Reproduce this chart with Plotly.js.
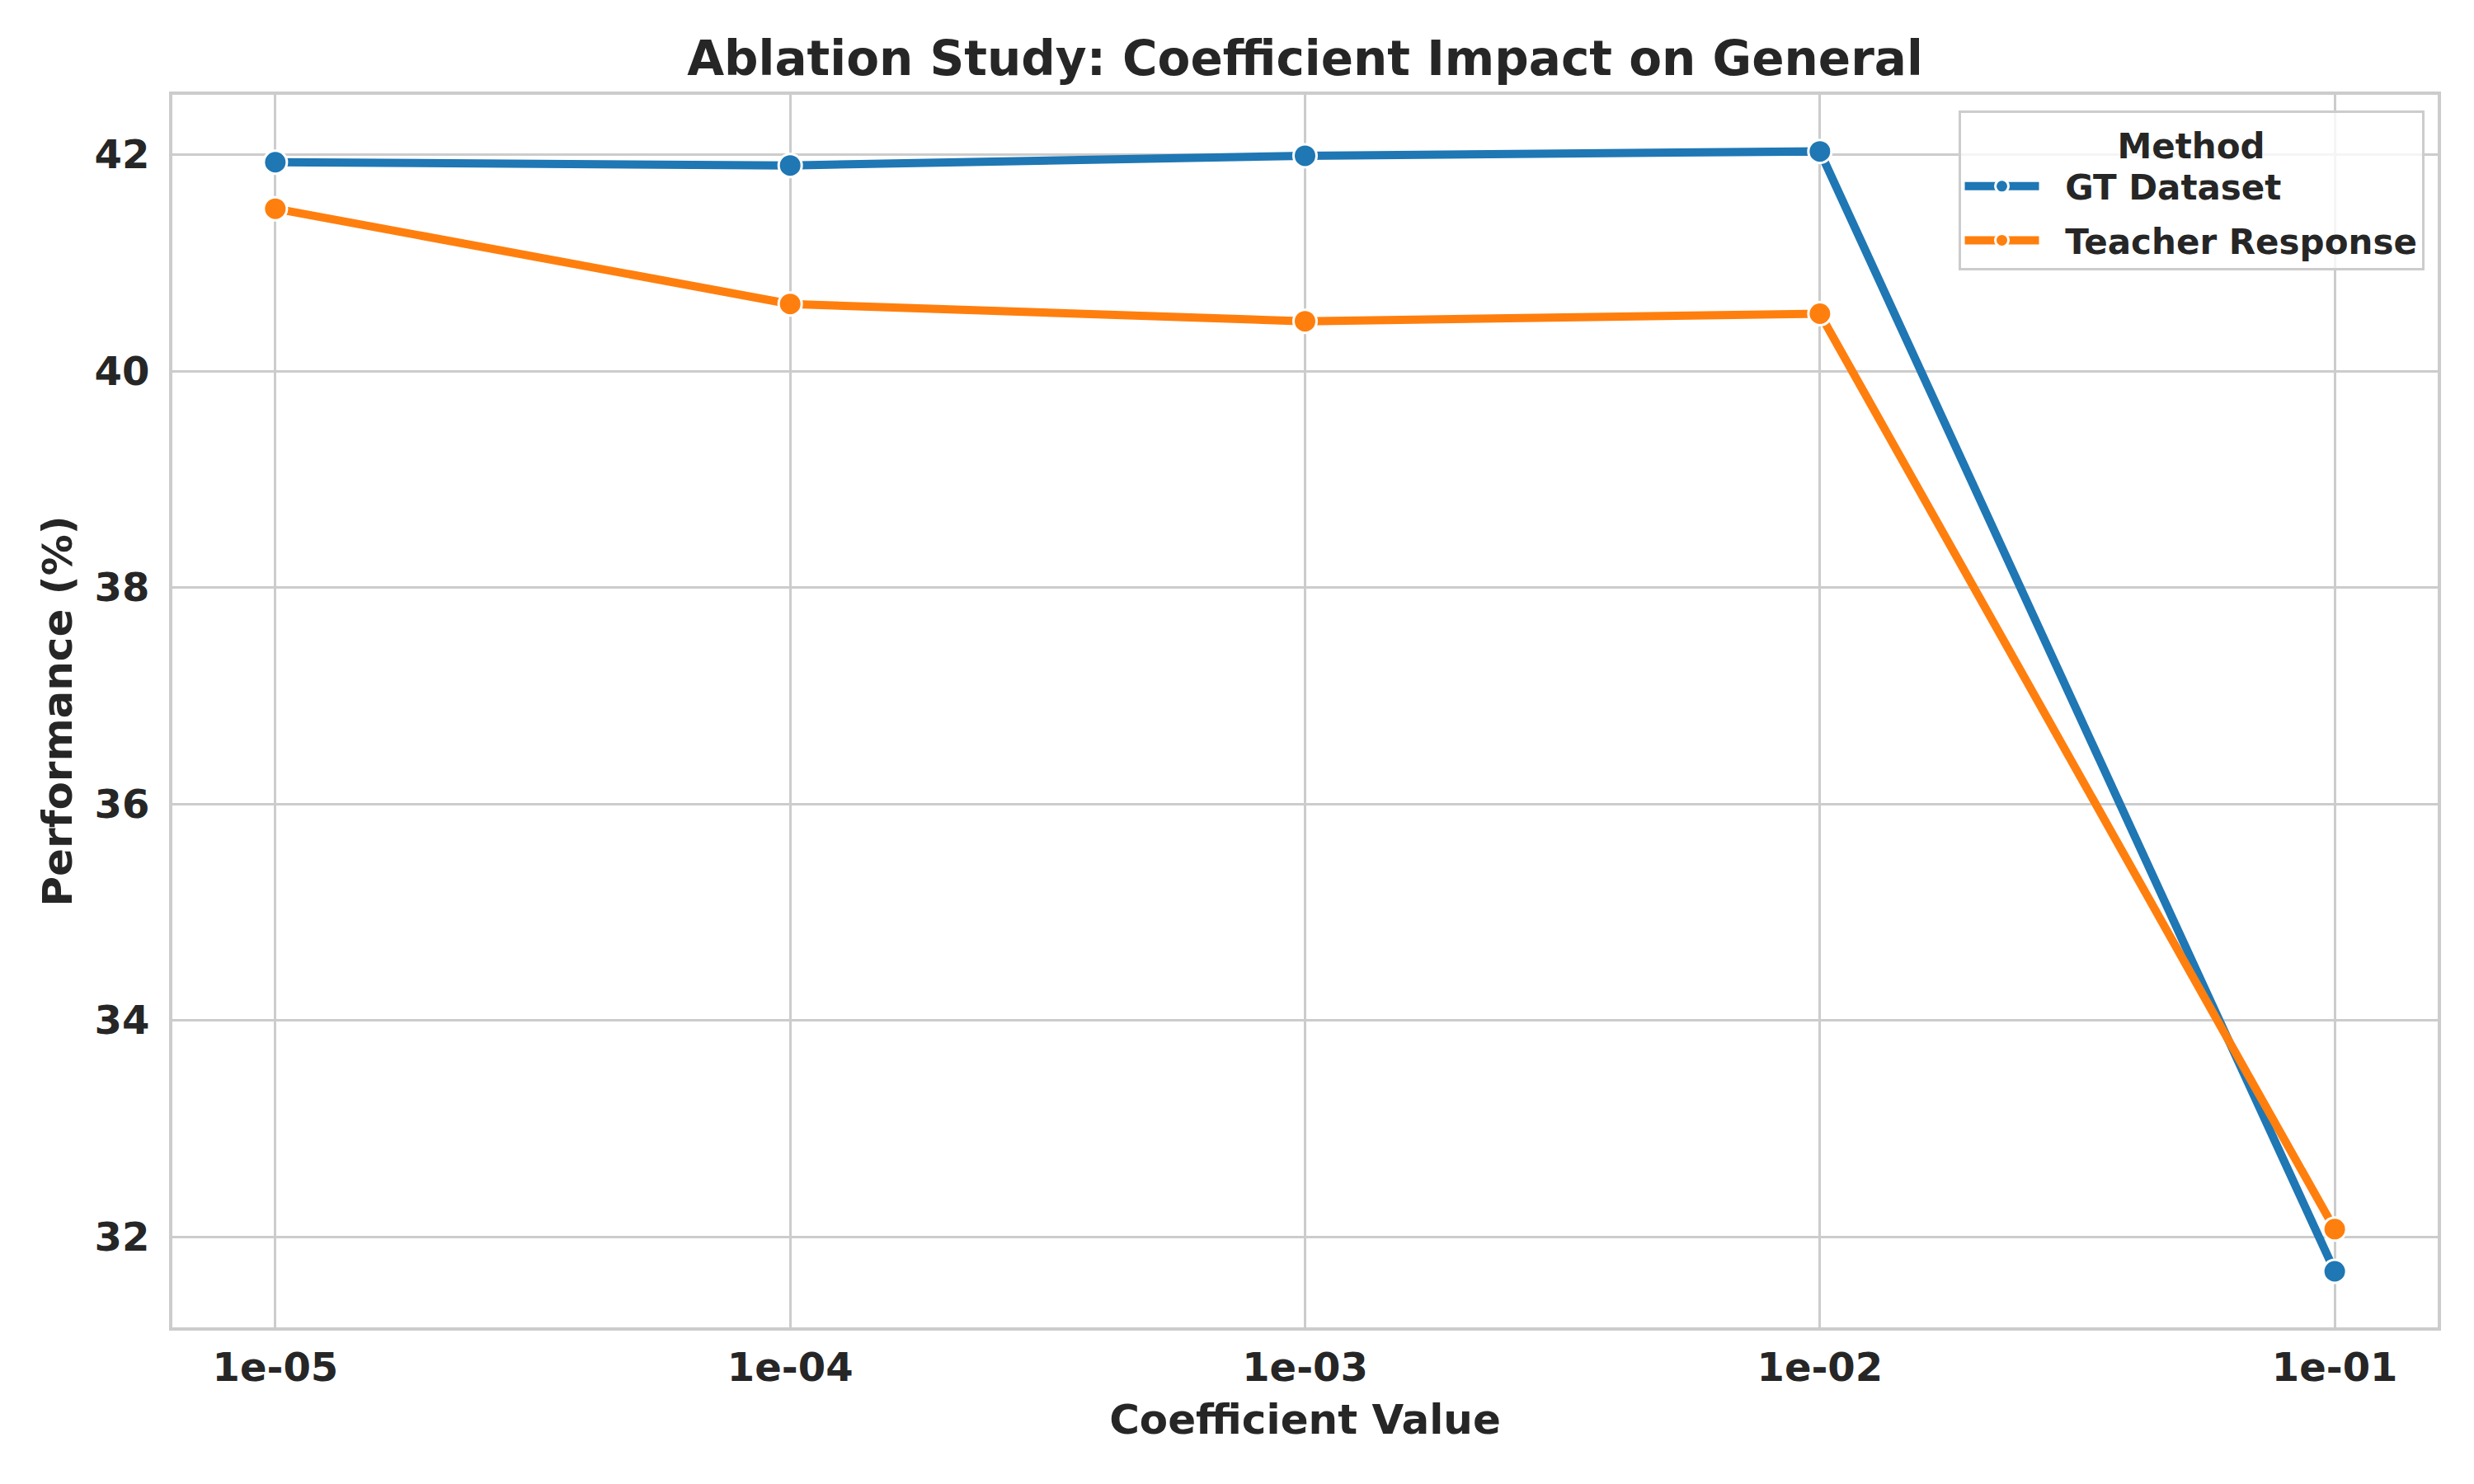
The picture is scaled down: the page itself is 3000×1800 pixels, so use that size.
<!DOCTYPE html>
<html>
<head>
<meta charset="utf-8">
<script src="https://cdn.plot.ly/plotly-3.0.1.min.js"></script>
<style>html,body{margin:0;padding:0;background:#fff;}#chart{width:3000px;height:1800px;}</style>
</head>
<body>
<div id="chart"></div>
<script>
const coefficients = [1e-5, 1e-4, 1e-3, 1e-2, 1e-1];
const tickLabels = ['1e-05', '1e-04', '1e-03', '1e-02', '1e-01'];
const gtDataset = [41.93, 41.90, 41.99, 42.03, 31.68];
const teacherResponse = [41.50, 40.62, 40.46, 40.53, 32.07];
const seriesNames = ['GT Dataset', 'Teacher Response'];
const yTicks = [32, 34, 36, 38, 40, 42];

const FONT = 'DejaVu Sans, sans-serif';
const TXT = '#262626';

function mk(name, y, color, grp) {
  return {
    type: 'scatter', mode: 'lines+markers', name: '&nbsp;&nbsp;<b>' + name + '</b>',
    legendgroup: grp,
    x: coefficients, y: y,
    line: {color: color, width: 10},
    marker: {color: color, size: 28, line: {color: '#ffffff', width: 3}}
  };
}

const data = [
  mk(seriesNames[0], gtDataset, '#1f77b4', 'g1'),
  mk(seriesNames[1], teacherResponse, '#ff7f0e', 'g2')
];

const layout = {
  width: 3000, height: 1800,
  paper_bgcolor: '#ffffff', plot_bgcolor: '#ffffff',
  margin: {l: 209, r: 44, t: 115, b: 190},
  font: {family: FONT, color: TXT},
  title: {
    text: '<b>Ablation Study: Coefficient Impact on General</b>',
    font: {family: FONT, size: 58, color: TXT},
    x: 0.5, xref: 'paper', xanchor: 'center',
    y: 1 - 71/1800, yref: 'container', yanchor: 'middle'
  },
  xaxis: {
    type: 'log', range: [-5.2, -0.8],
    tickvals: coefficients, ticktext: tickLabels.map(t => '<b>' + t + '</b>'),
    tickfont: {family: FONT, size: 48, color: TXT},
    ticks: 'outside', ticklen: 3, tickcolor: 'rgba(0,0,0,0)',
    showgrid: true, gridcolor: '#cccccc', gridwidth: 3,
    zeroline: false,
    showline: true, linecolor: '#cccccc', linewidth: 4, mirror: true,
    title: {text: '<b>Coefficient Value</b>', font: {family: FONT, size: 50, color: TXT}, standoff: 20}
  },
  yaxis: {
    range: [31.162, 42.553],
    tickvals: yTicks, ticktext: yTicks.map(v => '<b>' + v + '</b>'),
    tickfont: {family: FONT, size: 48, color: TXT},
    ticks: 'outside', ticklen: 14, tickcolor: 'rgba(0,0,0,0)',
    showgrid: true, gridcolor: '#cccccc', gridwidth: 3,
    zeroline: false,
    showline: true, linecolor: '#cccccc', linewidth: 4, mirror: true,
    title: {text: '<b>Performance (%)</b>', font: {family: FONT, size: 50, color: TXT}, standoff: 12}
  },
  showlegend: true,
  legend: {
    x: 0.994, xanchor: 'right', y: 0.987, yanchor: 'top',
    bgcolor: 'rgba(255,255,255,0.8)', bordercolor: '#cccccc', borderwidth: 3,
    font: {family: FONT, size: 42, color: TXT},
    title: {text: '<b>Method</b>', font: {family: FONT, size: 42, color: TXT}, side: 'top center'},
    itemwidth: 90, tracegroupgap: 8
  }
};

Plotly.newPlot('chart', data, layout, {displayModeBar: false, staticPlot: true});
</script>
</body>
</html>
